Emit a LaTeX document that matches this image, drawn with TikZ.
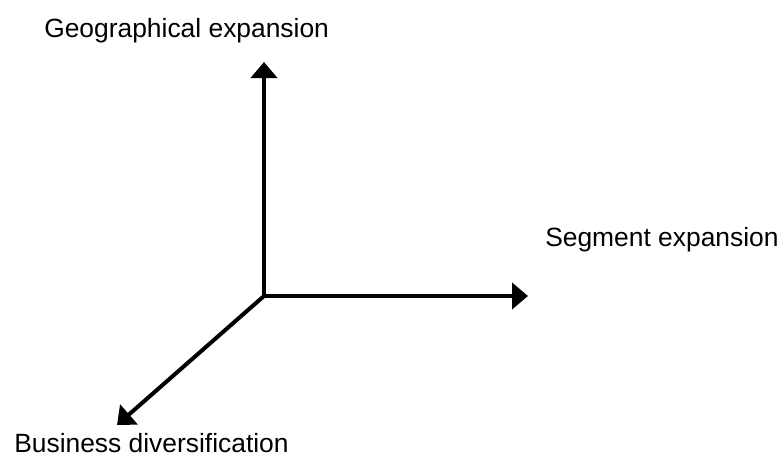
\documentclass[tikz,border=0pt]{standalone}
\usepackage{fontspec}
\setmainfont{Liberation Sans}
\usetikzlibrary{arrows.meta,positioning}
\tikzset{
  axislabel/.style={draw=none, inner sep=0pt, anchor=base west, font=\fontsize{19.8pt}{23pt}\selectfont},
  axis/.style={line width=3pt, -{Triangle[length=12pt, width=19.5pt]}}
}

\begin{document}
\begin{tikzpicture}[x=0.75pt, y=-0.75pt]
    \useasboundingbox (0,0) rectangle (782,454);

    \coordinate(O) at (264,296);
    \coordinate(geoEnd) at (264,62);
    \coordinate(segEnd) at (528,296);
    \coordinate(busEnd) at (117,425);

    \node(geo)[axislabel] at (44,37){Geographical expansion};
    \node(seg)[axislabel] at (545,246){Segment expansion};
    \node(bus)[axislabel] at (14,452){Business diversification};

    \draw[axis] (O) -- (geoEnd);
    \draw[axis] (O) -- (segEnd);
    \draw[axis] (O) -- (busEnd);
\end{tikzpicture}
\end{document}
